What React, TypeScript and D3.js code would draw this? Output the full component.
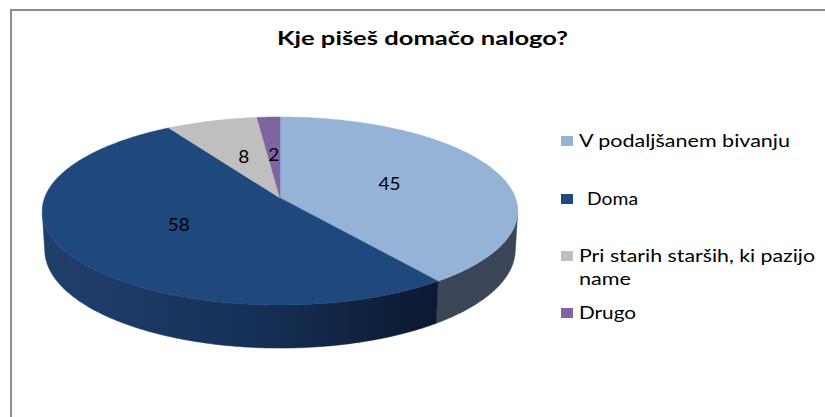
import React from "react";
import * as d3 from "d3";

const title = "Kje pišeš domačo nalogo?";
const categories = ["V podaljšanem bivanju", " Doma", "Pri starih starših, ki pazijo name", "Drugo"];
const values = [45, 58, 8, 2];
const topColors = ["#95B3D7", "#1F497D", "#BFBFBF", "#8064A2"];

const W = 825;
const H = 417;

// 3D projection parameters
const CX = 280;
const CY = 198;
const S = 235.5;
const SIN_PHI = 0.3915;
const COS_PHI = Math.sqrt(1 - SIN_PHI * SIN_PHI);
const DIST = 6.67;
const DEPTH = 0.179;

function proj(t: number, r: number, z: number): [number, number] {
  const X = r * Math.sin(t);
  const Y = r * Math.cos(t);
  const yc = Y * SIN_PHI + z * COS_PHI;
  const zc = DIST + Y * COS_PHI - z * SIN_PHI;
  return [CX + (S * DIST * X) / zc, CY - (S * DIST * yc) / zc];
}

function arcPoints(a0: number, a1: number, z: number): [number, number][] {
  const n = Math.max(2, Math.ceil(Math.abs(a1 - a0) / (Math.PI / 360)));
  const pts: [number, number][] = [];
  for (let i = 0; i <= n; i++) {
    const t = a0 + ((a1 - a0) * i) / n;
    pts.push(proj(t, 1, z));
  }
  return pts;
}

const line = d3.line<[number, number]>().x((d) => d[0]).y((d) => d[1]);

export default function App() {
  const arcs = d3.pie<number>().sort(null).value((d) => d)(values);
  const visLimit = Math.acos(-1 / (DIST * COS_PHI));
  const vis0 = visLimit;
  const vis1 = 2 * Math.PI - visLimit;

  const walls = arcs
    .map((a, i) => {
      const s0 = Math.max(a.startAngle, vis0);
      const s1 = Math.min(a.endAngle, vis1);
      if (s1 <= s0) return null;
      const top = arcPoints(s0, s1, 0);
      const bot = arcPoints(s1, s0, -DEPTH);
      return { i, d: line([...top, ...bot])! + "Z" };
    })
    .filter(Boolean) as { i: number; d: string }[];

  const tops = arcs.map((a, i) => {
    const apex = proj(0, 0, 0);
    const pts = [apex, ...arcPoints(a.startAngle, a.endAngle, 0)];
    return { i, d: line(pts)! + "Z" };
  });

  const labels = arcs.map((a, i) => {
    const mid = (a.startAngle + a.endAngle) / 2;
    const [x, y] = proj(mid, 0.5, 0);
    return { i, x, y, text: String(values[i]) };
  });

  const wallFill = (i: number) => (i === 1 ? "url(#wallDark)" : i === 0 ? "#3A4657" : "#555");

  const legendRows = [
    { i: 0, sqY: 136, lines: [{ t: "V podaljšanem bivanju", x: 579, y: 147, len: 211 }] },
    { i: 1, sqY: 194, lines: [{ t: "Doma", x: 587, y: 205, len: 51 }] },
    {
      i: 2,
      sqY: 251,
      lines: [
        { t: "Pri starih starših, ki pazijo", x: 579, y: 262, len: 236 },
        { t: "name", x: 579, y: 285, len: 52 },
      ],
    },
    { i: 3, sqY: 308, lines: [{ t: "Drugo", x: 579, y: 319, len: 57 }] },
  ];

  const font = "Lato, 'Open Sans', sans-serif";

  return (
    <svg
      width={W}
      height={H}
      style={{ position: "fixed", left: 0, top: 0, background: "#fff" }}
      xmlns="http://www.w3.org/2000/svg"
    >
      <defs>
        <linearGradient id="wallDark" gradientUnits="userSpaceOnUse" x1={42} y1={0} x2={437} y2={0}>
          <stop offset="0" stopColor="#1F3F6B" />
          <stop offset="0.5" stopColor="#17325A" />
          <stop offset="1" stopColor="#0B1930" />
        </linearGradient>
      </defs>
      <rect x={0} y={0} width={W} height={H} fill="#fff" />
      <line x1={11} y1={10} x2={W} y2={10} stroke="#8C8C8C" strokeWidth={2} />
      <line x1={11} y1={9} x2={11} y2={H} stroke="#8C8C8C" strokeWidth={2} />

      <text
        x={422.5}
        y={45}
        textAnchor="middle"
        fontFamily={font}
        fontWeight="bold"
        fontSize={19}
        fill="#000"
        textLength={291}
        lengthAdjust="spacingAndGlyphs"
      >
        {title}
      </text>

      {walls.map((w) => (
        <path key={"w" + w.i} d={w.d} fill={wallFill(w.i)} stroke={wallFill(w.i)} strokeWidth={0.5} />
      ))}
      {tops.map((t) => (
        <path key={"t" + t.i} d={t.d} fill={topColors[t.i]} stroke={topColors[t.i]} strokeWidth={0.5} />
      ))}

      {labels.map((l) => (
        <text
          key={"l" + l.i}
          x={l.x}
          y={l.y}
          dy={6}
          textAnchor="middle"
          fontFamily={font}
          fontSize={17}
          fill="#000"
          textLength={l.text.length > 1 ? 22 : 11}
          lengthAdjust="spacingAndGlyphs"
        >
          {l.text}
        </text>
      ))}

      {legendRows.map((r) => (
        <g key={"lg" + r.i}>
          <rect x={561} y={r.sqY} width={12} height={10} fill={topColors[r.i]} />
          {r.lines.map((ln, j) => (
            <text
              key={j}
              x={ln.x}
              y={ln.y}
              fontFamily={font}
              fontSize={17}
              fill="#000"
              textLength={ln.len}
              lengthAdjust="spacingAndGlyphs"
            >
              {ln.t}
            </text>
          ))}
        </g>
      ))}
    </svg>
  );
}
